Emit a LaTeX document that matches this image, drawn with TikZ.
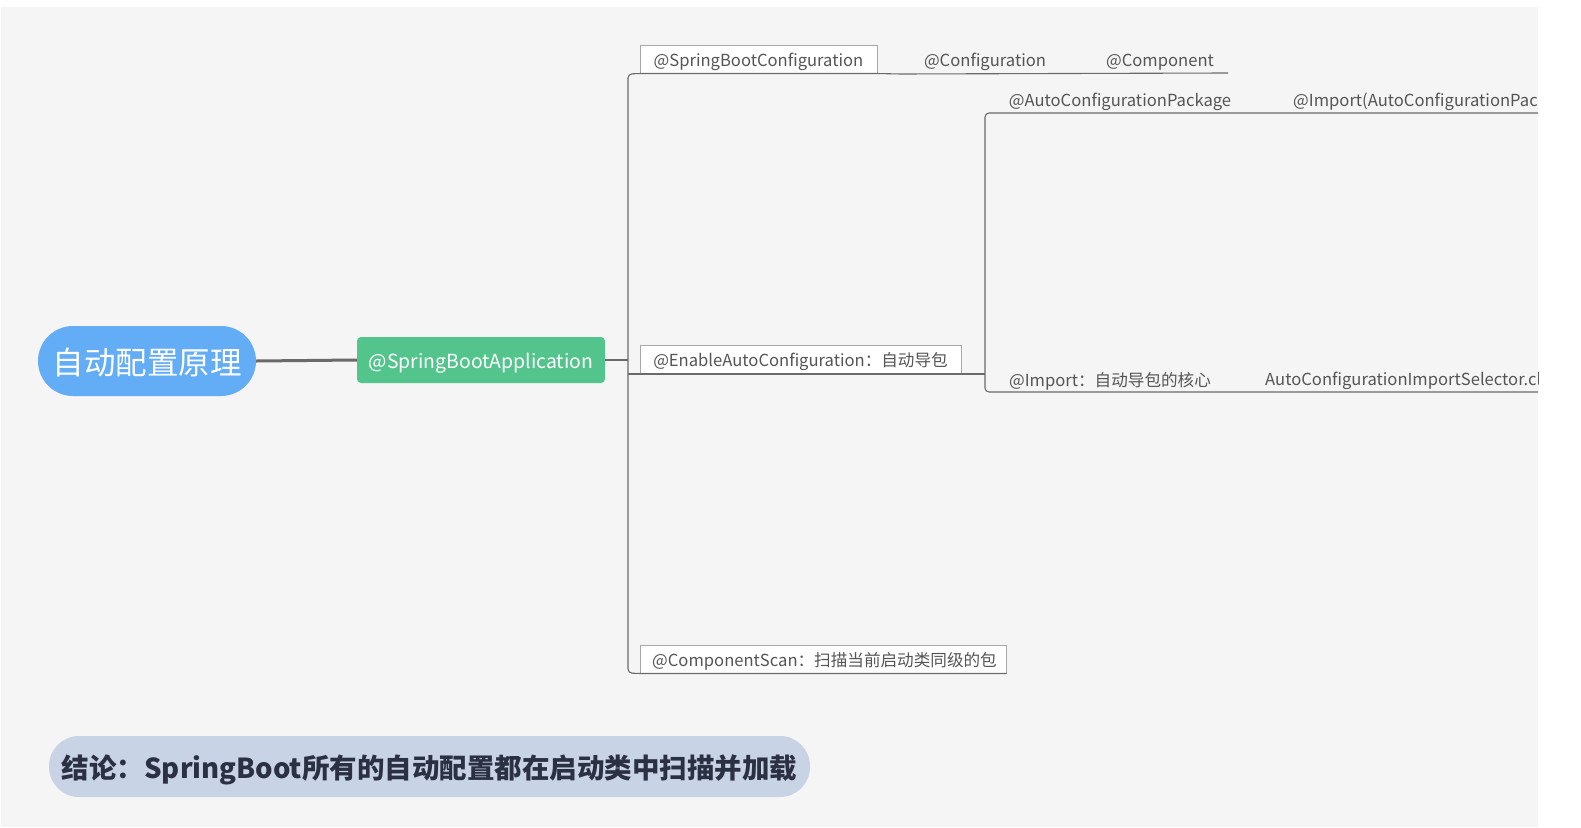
\documentclass[tikz,border=0pt]{standalone}
\usepackage{fontspec}
\setmainfont{Noto Sans CJK SC}
\begin{document}
\begin{tikzpicture}[x=1pt,y=-1pt,
  rootnode/.style={fill=rootc, text=white, rounded corners=35pt, minimum width=218pt, minimum height=70pt, inner sep=0pt, text height=26pt, text depth=0pt, font=\fontsize{31.5}{33}\selectfont},
  appnode/.style={fill=appc, text=white, rounded corners=4pt, minimum width=248pt, minimum height=46pt, inner sep=0pt, text height=16pt, text depth=0pt, font=\fontsize{19.4}{22}\selectfont},
  boxnode/.style={fill=white, draw=boxc, line width=1pt, text=txtc, minimum height=28pt, inner sep=0pt, text height=14pt, text depth=0pt, font=\fontsize{16.6}{18}\selectfont},
  plain/.style={text=txtc, inner sep=0pt, font=\fontsize{16.6}{18}\selectfont},
  branch/.style={draw=linec, line width=1.1pt, rounded corners=4pt},
  concl/.style={fill=conc, text=contc, rounded corners=30pt, minimum width=761pt, minimum height=61pt, inner sep=0pt, text height=23pt, text depth=0pt, font=\bfseries\fontsize{27.5}{30}\selectfont}
]
\definecolor{bgc}{HTML}{F5F5F5}
\definecolor{rootc}{HTML}{63ACF6}
\definecolor{appc}{HTML}{52C48C}
\definecolor{boxc}{HTML}{A8A8A8}
\definecolor{txtc}{HTML}{555555}
\definecolor{linec}{HTML}{6A6A6A}
\definecolor{conc}{HTML}{C8D4E6}
\definecolor{contc}{HTML}{2B3142}
\useasboundingbox (0,0) rectangle (1581,827);
\fill[white] (0,0) rectangle (1581,827);
\fill[bgc] (1,7) rectangle (1538,827);

\node[rootnode] (root) at (147,361) {自动配置原理};
\node[appnode] (app) at (481,360) {@SpringBootApplication};
\draw[draw=linec, line width=3pt] (root.east) -- (app.west);

\node[boxnode, minimum width=237pt] (c1) at (758.5,59) {@SpringBootConfiguration};
\node[boxnode, minimum width=321pt] (c2) at (800.5,359.5) {@EnableAutoConfiguration：自动导包};
\node[boxnode, minimum width=366pt] (c3) at (823,659) {\hspace*{3pt}@ComponentScan：扫描当前启动类同级的包};

\node[plain] (conf) at (985,62) {@Configuration};
\node[plain] (comp) at (1160,62) {@Component};
\node[plain] (acp) at (1120,102) {@AutoConfigurationPackage};
\node[plain] (imp2) at (1110,381) {@Import：自动导包的核心};

\begin{scope}
\clip (0,0) rectangle (1538,827);
\node[plain, anchor=west] (imp1) at (1293,102) {@Import(AutoConfigurationPackages.Registrar.class)};
\node[plain, anchor=west] (sel) at (1265,381) {AutoConfigurationImportSelector.class};
\coordinate (e1) at (1538,113);
\coordinate (e2) at (1538,392);
\end{scope}

\coordinate (sp) at (628,360);
\coordinate (sub) at (985,374);
\coordinate (compend) at (1228,73);
\coordinate (c1end) at (900,74);

\draw[draw=linec, line width=1.1pt] (app.east) -- (sp);
\draw[branch] (compend) -- (c1end) -- (c1.south east) -- (c1.south west) -- (628,74) -- (628,673) -- (c3.south west) -- (c3.south east);
\draw[branch] (628,374) -- (c2.south west) -- (c2.south east) -- (sub);
\draw[branch] (e1) -- (985,113) -- (985,392) -- (e2);

\node[concl] (con) at (429.5,766.5) {结论：SpringBoot所有的自动配置都在启动类中扫描并加载};
\end{tikzpicture}
\end{document}
